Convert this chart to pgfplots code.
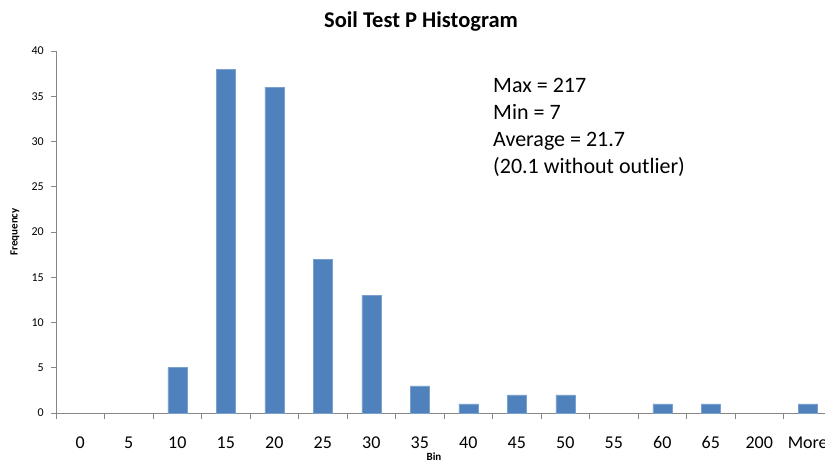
\documentclass[border=0pt]{standalone}
\usepackage{pgfplots}
\pgfplotsset{compat=1.18}
\usepackage{fontspec}
\setmainfont{Carlito}
\definecolor{barblue}{HTML}{4F81BD}
\definecolor{axgray}{HTML}{868686}
\begin{document}
\begin{tikzpicture}[x=1pt,y=1pt]
\begin{axis}[
  at={(56pt,52pt)}, anchor=south west,
  scale only axis, width=776pt, height=362pt,
  xmin=-0.5, xmax=15.5, ymin=0, ymax=40,
  axis x line*=bottom, axis y line*=left,
  axis line style={axgray, line width=0.9pt, -},
  xtick={0,...,15},
  xticklabels={0,5,10,15,20,25,30,35,40,45,50,55,60,65,200,More},
  major x tick style={draw=none},
  minor xtick={-0.5,0.5,...,15.5},
  minor x tick style={axgray, line width=0.9pt},
  minor tick length=6pt,
  ytick={0,5,...,40},
  major tick length=5pt,
  tick align=outside,
  y tick style={axgray, line width=0.9pt},
  xticklabel style={font=\fontsize{18}{18}\selectfont, anchor=base, inner sep=0pt, yshift=-31pt},
  yticklabel style={font=\fontsize{12}{12}\selectfont, anchor=east, inner sep=0pt, xshift=-7pt},
  /pgf/number format/assume math mode=true,
  ybar, bar width=19pt,
  clip=false,
]
% bins with frequency 0 (0, 5, 55, 200) draw no bar
\addplot[fill=barblue, draw=barblue!75!white, line width=0.5pt] coordinates {
(2,5) (3,38) (4,36) (5,17) (6,13) (7,3) (8,1) (9,2) (10,2) (12,1) (13,1) (15,1)};
\end{axis}
\node[font=\bfseries\fontsize{22.5}{22.5}\selectfont, anchor=base, inner sep=0pt] at (421,437) {Soil Test P Histogram};
\node[font=\fontsize{22}{27}\selectfont, anchor=north west, align=left, inner sep=0pt] at (493,387) {Max = 217\\Min = 7\\Average = 21.7\\(20.1 without outlier)};
\node[font=\bfseries\fontsize{11}{11}\selectfont, rotate=90, inner sep=0pt] at (15,233) {Frequency};
\node[font=\bfseries\fontsize{11}{11}\selectfont, inner sep=0pt] at (434,8) {Bin};
\pgfresetboundingbox
\path[use as bounding box] (0,0) rectangle (825,465);
\end{tikzpicture}
\end{document}
